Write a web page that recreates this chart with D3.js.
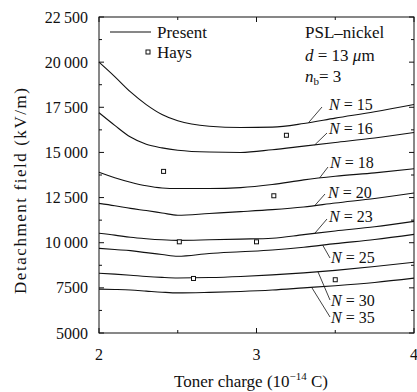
<!DOCTYPE html>
<html>
<head>
<meta charset="utf-8">
<script src="https://cdn.jsdelivr.net/npm/d3@7"></script>
<style>
  body { margin: 0; background: #fff; }
  svg text { font-family: "Liberation Serif", "DejaVu Serif", serif; fill: #111; }
</style>
</head>
<body>
<svg id="chart" width="417" height="392"></svg>
<script>
// toner charge grid (10^-14 C)
const charge = [2.0, 2.1, 2.2, 2.3, 2.4, 2.5, 2.7, 2.9, 3.1, 3.3, 3.5, 3.75, 4.0];

// detachment field (kV/m) for each N
const n15 = [20000, 19200, 18350, 17650, 17100, 16750, 16450, 16380, 16400, 16600, 16900, 17250, 17650];
const n16 = [17200, 16500, 15850, 15450, 15250, 15120, 15020, 15000, 15150, 15350, 15550, 15800, 16100];
const n18 = [13900, 13600, 13350, 13150, 13030, 13000, 13000, 13050, 13220, 13480, 13680, 13870, 14100];
const n20 = [12180, 12050, 11900, 11780, 11650, 11520, 11620, 11720, 11830, 11980, 12200, 12450, 12750];
const n23 = [10520, 10420, 10300, 10220, 10160, 10130, 10160, 10200, 10250, 10450, 10650, 10880, 11180];
const n25 = [9690, 9620, 9560, 9450, 9350, 9250, 9400, 9500, 9600, 9750, 9950, 10180, 10460];
const n30 = [8310, 8260, 8200, 8130, 8080, 8050, 8070, 8130, 8220, 8330, 8470, 8680, 8920];
const n35 = [7430, 7410, 7380, 7320, 7260, 7220, 7250, 7300, 7380, 7500, 7620, 7800, 8040];

const curveNames = ["15", "16", "18", "20", "23", "25", "30", "35"];
const curveValues = [n15, n16, n18, n20, n23, n25, n30, n35];
// charge where each label leader touches its curve
const leaderCharge = [3.33, 3.37, 3.4, 3.37, 3.37, 3.42, 3.39, 3.35];

// Hays measurements
const haysCharge = [2.41, 3.19, 3.11, 2.51, 3.0, 2.6, 3.5];
const haysField = [13950, 15950, 12600, 10050, 10050, 8020, 7950];

const xTicks = [2, 3, 4];
const yTicks = [5000, 7500, 10000, 12500, 15000, 17500, 20000, 22500];

const svg = d3.select("#chart");
const mLeft = 99, mRight = 414, mTop = 17, mBottom = 333;

const x = d3.scaleLinear().domain([2, 4]).range([mLeft, mRight]);
const y = d3.scaleLinear().domain([5000, 22500]).range([mBottom, mTop]);

const fmt = (v) => v >= 10000 ? d3.format(",")(v).replace(",", "\u2009") : String(v);

// frame
svg.append("rect")
  .attr("x", mLeft).attr("y", mTop)
  .attr("width", mRight - mLeft).attr("height", mBottom - mTop)
  .attr("fill", "none").attr("stroke", "#111").attr("stroke-width", 1);

// ticks, inward on all four sides
const yMinor = d3.range(5000, 22501, 1250);
const xMinor = d3.range(2, 4.001, 0.5);
yMinor.forEach((v) => {
  const len = v % 2500 === 0 ? 5 : 3;
  svg.append("line").attr("x1", mLeft).attr("x2", mLeft + len).attr("y1", y(v)).attr("y2", y(v))
    .attr("stroke", "#111");
  svg.append("line").attr("x1", mRight).attr("x2", mRight - len).attr("y1", y(v)).attr("y2", y(v))
    .attr("stroke", "#111");
});
xMinor.forEach((v) => {
  const len = Math.abs(v - Math.round(v)) < 1e-6 ? 5 : 3;
  svg.append("line").attr("x1", x(v)).attr("x2", x(v)).attr("y1", mBottom).attr("y2", mBottom - len)
    .attr("stroke", "#111");
  svg.append("line").attr("x1", x(v)).attr("x2", x(v)).attr("y1", mTop).attr("y2", mTop + len)
    .attr("stroke", "#111");
});

// tick labels
svg.selectAll(".ylab").data(yTicks).enter().append("text")
  .attr("x", mLeft - 11).attr("y", (d) => y(d))
  .attr("dy", "0.35em").attr("text-anchor", "end")
  .style("font-size", "16px")
  .text(fmt);

svg.selectAll(".xlab").data(xTicks).enter().append("text")
  .attr("x", (d) => x(d)).attr("y", 360)
  .attr("text-anchor", "middle")
  .style("font-size", "16px")
  .text((d) => d);

// axis titles
const xt = svg.append("text").attr("x", 251).attr("y", 387)
  .attr("text-anchor", "middle").style("font-size", "17px");
xt.append("tspan").text("Toner charge (10");
xt.append("tspan").attr("dy", -7).style("font-size", "11px").text("\u221214");
xt.append("tspan").attr("dy", 7).text(" C)");

svg.append("text")
  .attr("transform", "translate(26,191) rotate(-90)")
  .attr("text-anchor", "middle").style("font-size", "17px")
  .attr("textLength", 206).attr("lengthAdjust", "spacing")
  .text("Detachment field (kV/m)");

// curves
const line = d3.line()
  .x((d) => x(d[0]))
  .y((d) => y(d[1]))
  .curve(d3.curveMonotoneX);

curveValues.forEach((vals) => {
  const pts = charge.map((c, j) => [c, vals[j]]);
  svg.append("path")
    .attr("d", line(pts))
    .attr("fill", "none").attr("stroke", "#111").attr("stroke-width", 1.1);
});

// labels with leaders: leader end and text baseline (pixels)
const leaderEnd = [[322, 107], [327, 133], [328, 167], [325, 194], [327, 219], [330, 258], [330, 300], [330, 317]];
const labelAt = [[329, 110], [329, 134], [330, 168], [328, 198], [329, 222], [331, 263], [331, 306], [331, 323]];
curveValues.forEach((vals, i) => {
  const c = leaderCharge[i];
  const v = d3.scaleLinear().domain(charge).range(vals)(c);
  svg.append("line")
    .attr("x1", x(c)).attr("y1", y(v)).attr("x2", leaderEnd[i][0]).attr("y2", leaderEnd[i][1])
    .attr("stroke", "#111").attr("stroke-width", 0.8);
  const t = svg.append("text")
    .attr("x", labelAt[i][0]).attr("y", labelAt[i][1])
    .style("font-size", "16px");
  t.append("tspan").style("font-style", "italic").text("N");
  t.append("tspan").text(" = " + curveNames[i]);
});

// Hays points
svg.selectAll(".hays").data(haysCharge).enter().append("rect")
  .attr("x", (d) => x(d) - 2).attr("y", (d, i) => y(haysField[i]) - 2)
  .attr("width", 4).attr("height", 4)
  .attr("fill", "#fff").attr("stroke", "#111").attr("stroke-width", 1);

// legend
svg.append("line").attr("x1", 110).attr("x2", 151).attr("y1", 32).attr("y2", 32)
  .attr("stroke", "#111").attr("stroke-width", 1.1);
svg.append("text").attr("x", 157).attr("y", 38).style("font-size", "17px").text("Present");
svg.append("rect").attr("x", 146).attr("y", 50).attr("width", 4).attr("height", 4)
  .attr("fill", "#fff").attr("stroke", "#111");
svg.append("text").attr("x", 157).attr("y", 58).style("font-size", "17px").text("Hays");

// annotation
svg.append("text").attr("x", 305).attr("y", 38).style("font-size", "17px").text("PSL\u2013nickel");
const a2 = svg.append("text").attr("x", 305).attr("y", 61).style("font-size", "17px");
a2.append("tspan").style("font-style", "italic").text("d");
a2.append("tspan").text(" = 13 ");
a2.append("tspan").style("font-style", "italic").text("\u03bc");
a2.append("tspan").text("m");
const a3 = svg.append("text").attr("x", 305).attr("y", 82).style("font-size", "17px");
a3.append("tspan").style("font-style", "italic").text("n");
a3.append("tspan").attr("dy", 3).style("font-size", "11px").text("b");
a3.append("tspan").attr("dy", -3).text("= 3");
</script>
</body>
</html>
